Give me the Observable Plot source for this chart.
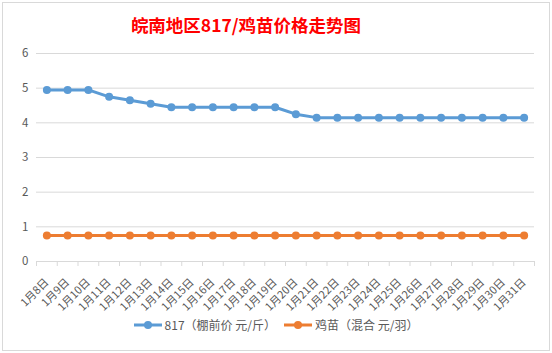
<!DOCTYPE html>
<html>
<head>
<meta charset="utf-8">
<script src="https://cdn.jsdelivr.net/npm/d3@7"></script>
<script src="https://cdn.jsdelivr.net/npm/@observablehq/plot@0.6"></script>
<style>
  html, body { margin: 0; padding: 0; background: #ffffff; }
  body { width: 552px; height: 353px; position: relative; overflow: hidden; font-family: "Noto Sans CJK SC", "Noto Sans", sans-serif; }
  #box { position: absolute; left: 2px; top: 2px; width: 546px; height: 347px; border: 1px solid #d9d9d9; background: #fff; }
  #title { position: absolute; top: 13px; left: 246px; transform: translateX(-50%); white-space: nowrap; color: #ff0000; font-weight: bold; font-size: 17.5px; line-height: 24px; }
  #chart { position: absolute; left: 0; top: 40px; }
  #legend { position: absolute; top: 316px; left: 0; width: 552px; display: flex; justify-content: center; font-size: 12px; color: #595959; }
  .item { display: flex; align-items: center; margin: 0 4px; }
  .item svg { margin-right: 3px; }
</style>
</head>
<body>
<div id="box"></div>
<div id="title">皖南地区817/鸡苗价格走势图</div>
<div id="chart"></div>
<div id="legend"></div>
<script>
const dates = ["1月8日","1月9日","1月10日","1月11日","1月12日","1月13日","1月14日","1月15日","1月16日","1月17日","1月18日","1月19日","1月20日","1月21日","1月22日","1月23日","1月24日","1月25日","1月26日","1月27日","1月28日","1月29日","1月30日","1月31日"];
const price817 = [4.95,4.95,4.95,4.75,4.65,4.55,4.45,4.45,4.45,4.45,4.45,4.45,4.25,4.15,4.15,4.15,4.15,4.15,4.15,4.15,4.15,4.15,4.15,4.15];
const priceChick = [0.75,0.75,0.75,0.75,0.75,0.75,0.75,0.75,0.75,0.75,0.75,0.75,0.75,0.75,0.75,0.75,0.75,0.75,0.75,0.75,0.75,0.75,0.75,0.75];
const seriesNames = ["817（棚前价 元/斤）", "鸡苗（混合 元/羽）"];
const seriesColors = ["#5b9bd5", "#ed7d31"];
const yTicks = [0,1,2,3,4,5,6];

const rows817 = dates.map((d, i) => ({i, date: d, value: price817[i]}));
const rowsChick = dates.map((d, i) => ({i, date: d, value: priceChick[i]}));
const idx = dates.map((d, i) => i);
const bounds = dates.map((d, i) => i - 0.5).concat([dates.length - 0.5]);

const chart = Plot.plot({
  width: 552,
  height: 272,
  marginLeft: 36,
  marginRight: 18,
  marginTop: 13,
  marginBottom: 51,
  style: {fontFamily: '"Noto Sans CJK SC", "Noto Sans", sans-serif', fontSize: "11px", color: "#595959", background: "transparent", overflow: "visible"},
  x: {domain: [-0.5, dates.length - 0.5], label: null},
  y: {domain: [0, 6], label: null},
  marks: [
    Plot.gridY(yTicks, {stroke: "#d9d9d9", strokeOpacity: 1, strokeWidth: 1}),
    Plot.axisY(yTicks, {tickSize: 0, tickPadding: 8, fill: "#595959", fontSize: 11.5, label: null}),
    Plot.ruleY([0], {stroke: "#d9d9d9", strokeWidth: 1}),
    Plot.axisX(bounds, {tickSize: 5, stroke: "#d9d9d9", strokeOpacity: 1, tickFormat: () => "", label: null}),
    Plot.axisX(idx, {tickSize: 0, tickPadding: 19, tickRotate: -45, tickFormat: i => dates[i], fill: "#595959", label: null}),
    Plot.line(rows817, {x: "i", y: "value", stroke: seriesColors[0], strokeWidth: 3}),
    Plot.dot(rows817, {x: "i", y: "value", fill: seriesColors[0], r: 4}),
    Plot.line(rowsChick, {x: "i", y: "value", stroke: seriesColors[1], strokeWidth: 3}),
    Plot.dot(rowsChick, {x: "i", y: "value", fill: seriesColors[1], r: 4})
  ]
});
document.getElementById("chart").appendChild(chart);

const legend = document.getElementById("legend");
seriesNames.forEach((name, k) => {
  const item = document.createElement("div");
  item.className = "item";
  item.innerHTML = `<svg width="28" height="10"><line x1="0" y1="5" x2="28" y2="5" stroke="${seriesColors[k]}" stroke-width="3"/><circle cx="14" cy="5" r="4" fill="${seriesColors[k]}"/></svg><span>${name}</span>`;
  legend.appendChild(item);
});
</script>
</body>
</html>
